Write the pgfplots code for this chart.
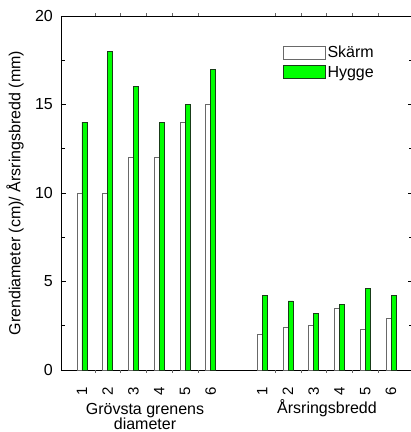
\documentclass[border=0pt]{standalone}
\usepackage{fontspec}
\setmainfont{Liberation Sans}
\usepackage{pgfplots}
\usepackage{pgfplotstable}
\pgfplotsset{compat=1.18}

\definecolor{hygge}{RGB}{0,255,0}
\definecolor{skedge}{RGB}{105,105,105}
\definecolor{hyedge}{RGB}{25,60,25}

% pos: position on the x axis (7 is the gap between the two groups)
\pgfplotstableread{
pos skarm hygge
1   10    14
2   10    18
3   12    16
4   12    14
5   14    15
6   15    17
8   2.0   4.2
9   2.4   3.9
10  2.5   3.2
11  3.5   3.7
12  2.3   4.6
13  2.9   4.2
}\bardata

\begin{document}
\begin{tikzpicture}[font=\fontsize{16bp}{19bp}\selectfont]
\path[use as bounding box] (0,0) rectangle (411bp,432bp);
\begin{axis}[
  at={(61bp,62bp)}, anchor=south west,
  scale only axis, width=352bp, height=354bp,
  xmin=0.1845, xmax=13.854, ymin=0, ymax=20,
  axis line style={line width=0.8bp},
  tick align=inside,
  major tick length=5bp, minor tick length=4bp,
  every tick/.style={black, line width=0.7bp},
  ytick={0,5,10,15,20},
  minor y tick num=1,
  yticklabel style={inner sep=0pt},
  yticklabel shift=8bp,
  xtick={1,2,3,4,5,6,8,9,10,11,12,13},
  xticklabels={1,2,3,4,5,6,1,2,3,4,5,6},
  xtick style={draw=none},
  xticklabel style={rotate=90, anchor=east, inner sep=0pt,
    font=\fontsize{15bp}{18bp}\selectfont},
  xticklabel shift=12bp,
  extra x ticks={1.5,2.5,3.5,4.5,5.5,8.5,9.5,10.5,11.5,12.5},
  extra x tick labels={},
  extra x tick style={xtick style={draw=black!60, line width=0.5bp}, major tick length=2.5bp},
  /pgf/number format/assume math mode=true,
  ybar=0pt, bar width=5bp,
  legend cell align=left,
  legend style={at={(axis description cs:0.6307,0.92)}, anchor=north west,
    draw=none, fill=none, inner sep=0pt, row sep=4bp,
    nodes={inner sep=1.5bp}},
  legend image code/.code={\draw[#1, line width=0.8bp] (0bp,-6.5bp) rectangle (42bp,6.5bp);},
  clip=false,
]
\addplot[draw=skedge, fill=white, line width=0.9bp] table[x=pos, y=skarm] {\bardata};
\addplot[draw=hyedge, fill=hygge, line width=0.9bp] table[x=pos, y=hygge] {\bardata};
\legend{Skärm, Hygge}
\end{axis}
% axis titles
\node[rotate=90] at (15bp,239bp) {Grendiameter (cm)/ Årsringsbredd (mm)};
\node[anchor=base] at (145bp,17.5bp) {Grövsta grenens};
\node[anchor=base] at (145bp,2.5bp) {diameter};
\node[anchor=base] at (327bp,19bp) {Årsringsbredd};
\end{tikzpicture}
\end{document}
